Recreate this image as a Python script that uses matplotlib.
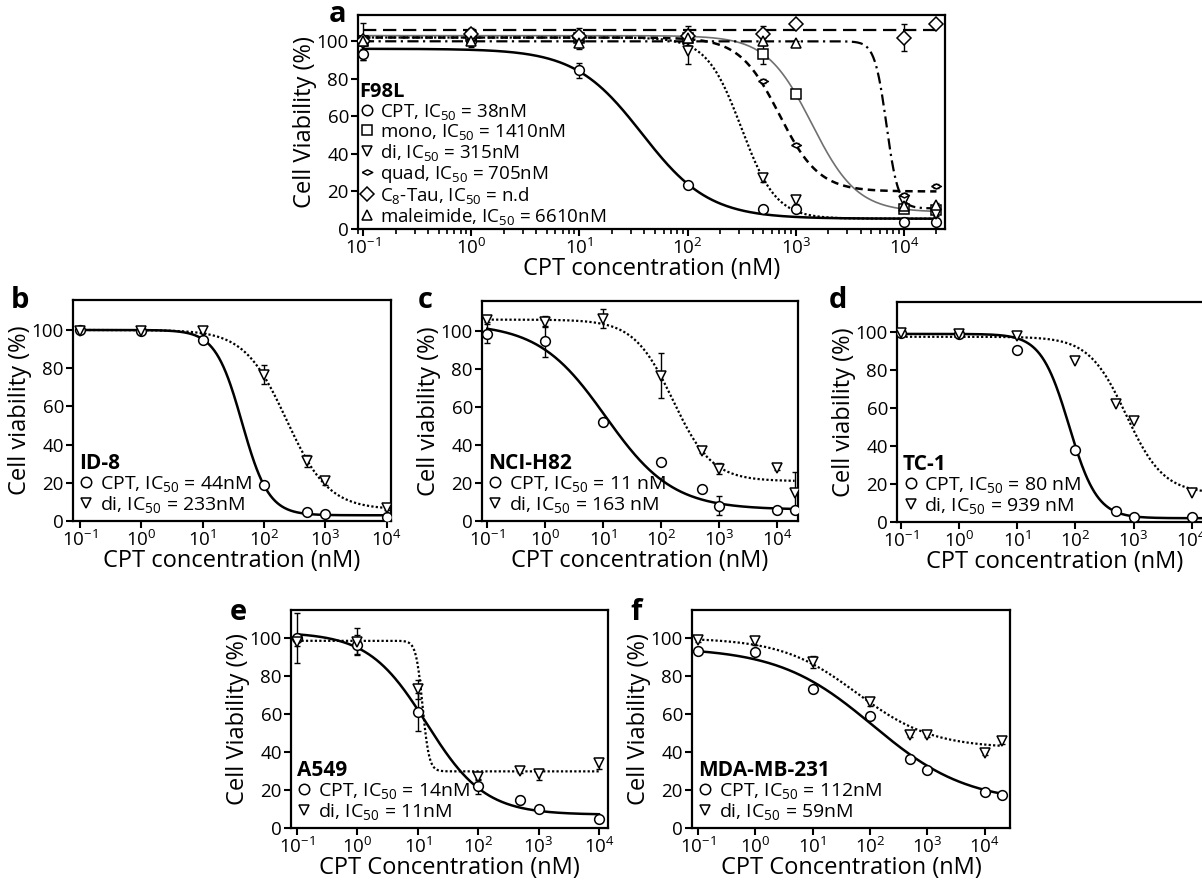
import numpy as np
import matplotlib.pyplot as plt
from matplotlib.lines import Line2D

plt.rcParams['font.family'] = ['Open Sans', 'DejaVu Sans']
plt.rcParams['mathtext.default'] = 'regular'

# ---- panel a : F98L ----
conc_a = [0.1, 1, 10, 100, 500, 1000, 10000, 20000]
a_cpt = [93, 100, 84.5, 23.5, 10.6, 10.6, 3.5, 3.5]
a_mono = [100, 103, 102, 102, 93, 72, 10.5, 10]
a_di = [100, 102, 100, 95, 27, 15.5, 15, 8]
a_quad = [100, 101, 100, 103, 79, 45, 18, 23]
a_c8 = [100, 104, 103, 103, 104, 109, 102, 109]
a_mal = [100, 100, 99, 102, 100, 99, 12, 13]
a_cpt_err = [3, 3, 4, 1, 1, 1, 1, 1]
a_mono_err = [2, 2, 2, 2, 5, 1, 1, 1]
a_di_err = [2, 2, 4, 7, 2, 2, 1, 1]
a_quad_err = [2, 2, 2, 2, 1, 1, 1, 1]
a_c8_err = [10, 3, 4, 5, 4, 1, 7, 1]
a_mal_err = [2, 2, 2, 2, 2, 1, 1, 1]
# fitted curves: top, bottom, IC50, hill
a_cpt_fit = [96, 5.5, 38, 1.4]
a_mono_fit = [103, 9, 1410, 2.07]
a_di_fit = [102, 5.5, 315, 2.7]
a_quad_fit = [102, 20, 705, 2.36]
a_c8_fit = [105.8, 105.8, 1000, 1.0]
a_mal_fit = [100, 11, 6900, 8]
a_labels = ['CPT, IC$_{50}$ = 38nM', 'mono, IC$_{50}$ = 1410nM', 'di, IC$_{50}$ = 315nM',
            'quad, IC$_{50}$ = 705nM', 'C$_8$-Tau, IC$_{50}$ = n.d', 'maleimide, IC$_{50}$ = 6610nM']

# ---- panel b : ID-8 ----
conc_b = [0.1, 1, 10, 100, 500, 1000, 10000]
b_cpt = [100, 99.5, 94.5, 19, 4.5, 3.6, 2]
b_di = [99.5, 99.5, 99.5, 76.5, 31.5, 20.8, 7]
b_cpt_err = [0.5, 0.5, 1, 1, 0.5, 0.5, 0.5]
b_di_err = [0.5, 0.5, 1, 5, 3, 2, 1]
b_cpt_fit = [100, 3, 44, 2.0]
b_di_fit = [100, 6, 233, 1.26]
b_labels = ['CPT, IC$_{50}$ = 44nM', 'di, IC$_{50}$ = 233nM']

# ---- panel c : NCI-H82 ----
conc_c = [0.1, 1, 10, 100, 500, 1000, 10000, 20000]
c_cpt = [98.5, 94.5, 52, 31, 17, 8, 6, 6]
c_di = [106, 105, 106.5, 76.5, 37, 27.5, 28, 15]
c_cpt_err = [5, 8, 1, 1, 1, 5, 0.5, 0.5]
c_di_err = [1, 3, 5, 12, 1, 3, 1, 11]
c_cpt_fit = [104, 6, 11, 0.75]
c_di_fit = [106, 21, 160, 1.285]
c_labels = ['CPT, IC$_{50}$ = 11 nM', 'di, IC$_{50}$ = 163 nM']

# ---- panel d : TC-1 ----
conc_d = [0.1, 1, 10, 100, 500, 1000, 10000]
d_cpt = [99.5, 99, 90.5, 38, 6, 2.6, 2.6]
d_di = [99.5, 99, 98, 84.5, 62, 53, 15.5]
d_cpt_fit = [99, 2, 78, 1.8]
d_di_fit = [97.5, 15, 750, 1.35]
d_labels = ['CPT, IC$_{50}$ = 80 nM', 'di, IC$_{50}$ = 939 nM']

# ---- panel e : A549 ----
conc_e = [0.1, 1, 10, 100, 500, 1000, 10000]
e_cpt = [100, 96.5, 61, 22, 14.8, 10.2, 4.9]
e_di = [97.8, 98, 73, 27, 29.8, 28.2, 34]
e_cpt_err = [13, 5, 10, 4, 2, 1, 1]
e_di_err = [2, 7, 5, 2, 1, 3, 3]
e_cpt_fit = [103, 7, 14, 0.9]
e_di_fit = [98.5, 29.8, 12, 8]
e_labels = ['CPT, IC$_{50}$ = 14nM', 'di, IC$_{50}$ = 11nM']

# ---- panel f : MDA-MB-231 ----
conc_f = [0.1, 1, 10, 100, 500, 1000, 10000, 20000]
f_cpt = [93, 92.5, 73.3, 59.1, 36.3, 30.5, 18.8, 17.2]
f_di = [99, 98.2, 87.4, 66.3, 49.1, 49.1, 39.5, 46]
f_cpt_err = [1, 1, 1, 1, 1, 1, 1, 1]
f_di_err = [1, 2, 3, 2, 1, 1, 1, 2]
f_cpt_fit = [95, 13, 112, 0.527]
f_di_fit = [100, 42, 59, 0.66]
f_labels = ['CPT, IC$_{50}$ = 112nM', 'di, IC$_{50}$ = 59nM']

xticks = [0.1, 1, 10, 100, 1000, 10000]
xticklabels = ['$10^{-1}$', '$10^{0}$', '$10^{1}$', '$10^{2}$', '$10^{3}$', '$10^{4}$']

quad_marker = [(-1, 0), (0, 0.5), (1, 0), (0, -0.5), (-1, 0)]


def logistic(x, p):
    top, bottom, ic50, hill = p
    return bottom + (top - bottom) / (1 + (x / ic50) ** hill)


def style_axes(ax, xlim, ymax, ylab, xlab):
    ax.set_xscale('log')
    ax.set_xlim(10 ** xlim[0], 10 ** xlim[1])
    ax.set_ylim(0, ymax)
    ax.set_yticks([0, 20, 40, 60, 80, 100])
    ax.set_xticks(xticks)
    ax.set_xticklabels(xticklabels)
    ax.tick_params(which='major', direction='out', length=5, width=1.5, labelsize=13.5, pad=1.5)
    ax.tick_params(which='minor', direction='out', length=3.5, width=1.2)
    ax.tick_params(axis='y', which='minor', left=False)
    for s in ax.spines.values():
        s.set_linewidth(1.6)
    ax.set_ylabel(ylab, fontsize=17, labelpad=0)
    ax.set_xlabel(xlab, fontsize=17, labelpad=-1)


def add_series(ax, conc, y, err, fit, xmax, marker, ls, color='black', lw=1.6, ms=7):
    xs = np.logspace(-1, np.log10(xmax), 400)
    ax.plot(xs, logistic(xs, fit), color=color, lw=lw, linestyle=ls, zorder=2)
    if err is not None:
        ax.errorbar(conc, y, yerr=err, fmt='none', ecolor='black', elinewidth=1,
                    capsize=2.5, capthick=1, zorder=3)
    ax.plot(conc, y, linestyle='none', marker=marker, mfc='white', mec='black',
            mew=1.1, ms=ms, zorder=4)


def add_legend(ax, title, labels, markers, fs=14, anchor=(-0.025, -0.035), spacing=0.0):
    handles = [Line2D([], [], linestyle='none', marker=m, mfc='none', mec='black',
                      mew=1.1, ms=7.5) for m in markers]
    leg = ax.legend(handles, labels, title=title, loc='lower left', bbox_to_anchor=anchor,
                    frameon=False, fontsize=fs, handlelength=0.8, handletextpad=0.3,
                    labelspacing=spacing, borderpad=0.2, alignment='left',
                    title_fontproperties={'weight': 'bold', 'size': fs + 1})
    leg.get_title().set_ha('left')


fig = plt.figure(figsize=(12.02, 8.86), dpi=100)


def axes_px(x0, y0, x1, y1):
    return fig.add_axes([x0 / 1202, 1 - y1 / 886, (x1 - x0) / 1202, (y1 - y0) / 886])


# panel a
ax = axes_px(358, 15, 945, 229)
add_series(ax, conc_a, a_cpt, a_cpt_err, a_cpt_fit, 20000, 'o', '-', lw=1.8)
add_series(ax, conc_a, a_mono, a_mono_err, a_mono_fit, 20000, 's', '-', color='#707070', lw=1.2)
add_series(ax, conc_a, a_di, a_di_err, a_di_fit, 20000, 'v', (0, (1, 1)), lw=1.6)
add_series(ax, conc_a, a_quad, a_quad_err, a_quad_fit, 20000, quad_marker, (0, (3, 2)), lw=1.8)
add_series(ax, conc_a, a_c8, a_c8_err, a_c8_fit, 20000, 'D', (0, (6, 3)), lw=1.6)
add_series(ax, conc_a, a_mal, a_mal_err, a_mal_fit, 20000, '^', (0, (5, 2, 1, 2)), lw=1.6)
style_axes(ax, (-1.046, 4.38), 114, 'Cell Viability (%)', 'CPT concentration (nM)')
add_legend(ax, 'F98L', a_labels, ['o', 's', 'v', quad_marker, 'D', '^'],
           fs=13.5, spacing=0.0, anchor=(-0.02, -0.05))

# panel b
ax = axes_px(73, 300, 391, 521)
add_series(ax, conc_b, b_cpt, b_cpt_err, b_cpt_fit, 10000, 'o', '-', lw=1.8)
add_series(ax, conc_b, b_di, b_di_err, b_di_fit, 10000, 'v', (0, (1, 1)))
style_axes(ax, (-1.11, 4.07), 115.7, 'Cell viability (%)', 'CPT concentration (nM)')
add_legend(ax, 'ID-8', b_labels, ['o', 'v'])

# panel c
ax = axes_px(482, 301, 798, 521)
add_series(ax, conc_c, c_cpt, c_cpt_err, c_cpt_fit, 20000, 'o', '-', lw=1.8)
add_series(ax, conc_c, c_di, c_di_err, c_di_fit, 20000, 'v', (0, (1, 1)))
style_axes(ax, (-1.09, 4.36), 115.8, 'Cell viability (%)', 'CPT concentration (nM)')
add_legend(ax, 'NCI-H82', c_labels, ['o', 'v'])

# panel d
ax = axes_px(897, 302, 1212, 522)
add_series(ax, conc_d, d_cpt, None, d_cpt_fit, 10 ** 4.35, 'o', '-', lw=1.8)
add_series(ax, conc_d, d_di, None, d_di_fit, 10 ** 4.35, 'v', (0, (1, 1)))
style_axes(ax, (-1.07, 4.35), 115.8, 'Cell viability (%)', 'CPT concentration (nM)')
add_legend(ax, 'TC-1', d_labels, ['o', 'v'])

# panel e
ax = axes_px(291, 610, 608, 828)
add_series(ax, conc_e, e_cpt, e_cpt_err, e_cpt_fit, 10000, 'o', '-', lw=1.8)
add_series(ax, conc_e, e_di, e_di_err, e_di_fit, 10000, 'v', (0, (1, 1)))
style_axes(ax, (-1.1, 4.15), 114.7, 'Cell Viability (%)', 'CPT Concentration (nM)')
add_legend(ax, 'A549', e_labels, ['o', 'v'])

# panel f
ax = axes_px(692, 610, 1010, 828)
add_series(ax, conc_f, f_cpt, f_cpt_err, f_cpt_fit, 20000, 'o', '-', lw=1.8)
add_series(ax, conc_f, f_di, f_di_err, f_di_fit, 20000, 'v', (0, (1, 1)))
style_axes(ax, (-1.1, 4.44), 114.7, 'Cell Viability (%)', 'CPT Concentration (nM)')
add_legend(ax, 'MDA-MB-231', f_labels, ['o', 'v'])

# panel letters
for letter, px, py in [('a', 338, 14), ('b', 20, 300), ('c', 425, 300),
                       ('d', 838, 300), ('e', 238, 612), ('f', 636, 612)]:
    fig.text(px / 1202, 1 - py / 886, letter, ha='center', va='center',
             fontsize=21, fontweight='bold')

fig.savefig('out.png', dpi=100)
